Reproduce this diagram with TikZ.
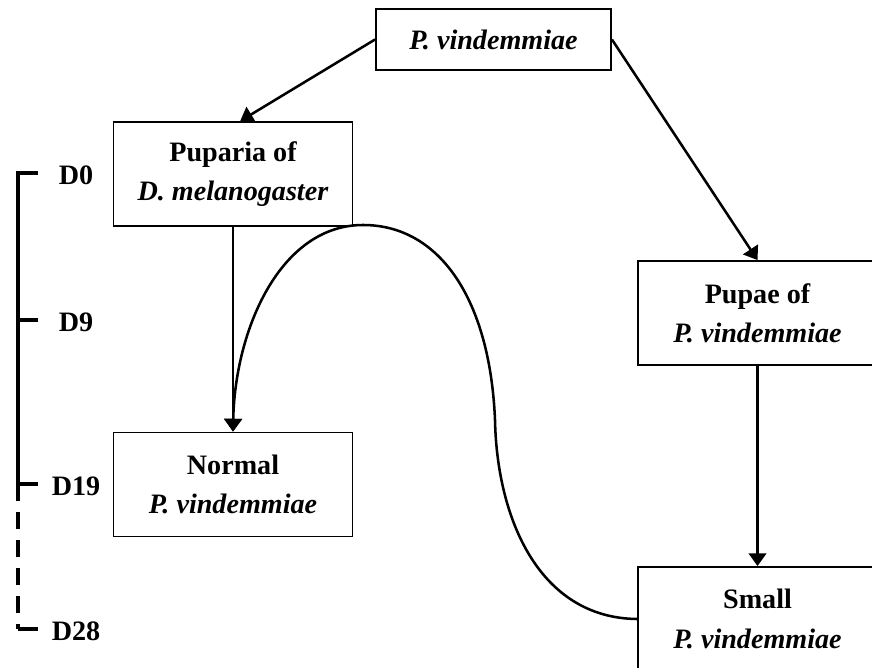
\documentclass[tikz,border=0pt]{standalone}
\usepackage{fontspec}
\setmainfont{Liberation Serif}
\usetikzlibrary{arrows.meta,positioning}

\begin{document}
\begin{tikzpicture}[x=0.025cm, y=-0.025cm,
  box/.style={draw, line width=1.3pt, minimum width=5.975cm, minimum height=2.6cm,
    align=center, font=\fontsize{20}{28}\selectfont\bfseries},
  conn/.style={line width=1.8pt, -{Triangle[length=0.32cm,width=0.44cm]}},
  tline/.style={line width=2.6pt},
  daylabel/.style={font=\fontsize{20}{24}\selectfont\bfseries}]
\useasboundingbox (0,0) rectangle (872,668);
% Boxes
\node[box, minimum width=5.875cm, minimum height=1.525cm] (top) at (493.5,39.5) {\textit{P. vindemmiae}};
\node[box] (puparia) at (233,174) {Puparia of\\\textit{D. melanogaster}};
\node[box] (normal) at (233,484.5) {Normal\\\textit{P. vindemmiae}};
\node[box] (pupae) at (757.5,313) {Pupae of\\\textit{P. vindemmiae}};
\node[box] (small) at (757.5,619) {Small\\\textit{P. vindemmiae}};
% Arrows
\draw[conn] (top.west) -- ([xshift=0.18cm]puparia.north);
\draw[conn] (top.east) -- (pupae.north);
\draw[conn] (puparia.south) -- (normal.north);
\draw[conn] (pupae.south) -- (small.north);
% Loop back from small to normal
\draw[conn] (small.west) .. controls (540,618) and (497,520) .. (495,420)
  .. controls (490,300) and (440,225) .. (363,225)
  .. controls (280,225) and (235,330) .. (normal.north);
% Time line
\coordinate (t0) at (18,173);
\coordinate (t9) at (18,320);
\coordinate (t19) at (18,484);
\coordinate (t28) at (18,629);
\draw[tline] ([xshift=0.5cm]t0) -- (t0) -- (t19);
\draw[tline, dash pattern=on 0.42cm off 0.28cm] (t19) -- (t28);
\draw[tline] (t28) -- ([xshift=0.5cm]t28);
\foreach \c in {t9, t19} {
  \draw[tline] (\c) -- ([xshift=0.5cm]\c);
}
\foreach \c/\lab in {t0/D0, t9/D9, t19/D19, t28/D28} {
  \node[daylabel] (l\c) at ([xshift=1.45cm, yshift=-0.05cm]\c) {\lab};
}
\end{tikzpicture}
\end{document}
